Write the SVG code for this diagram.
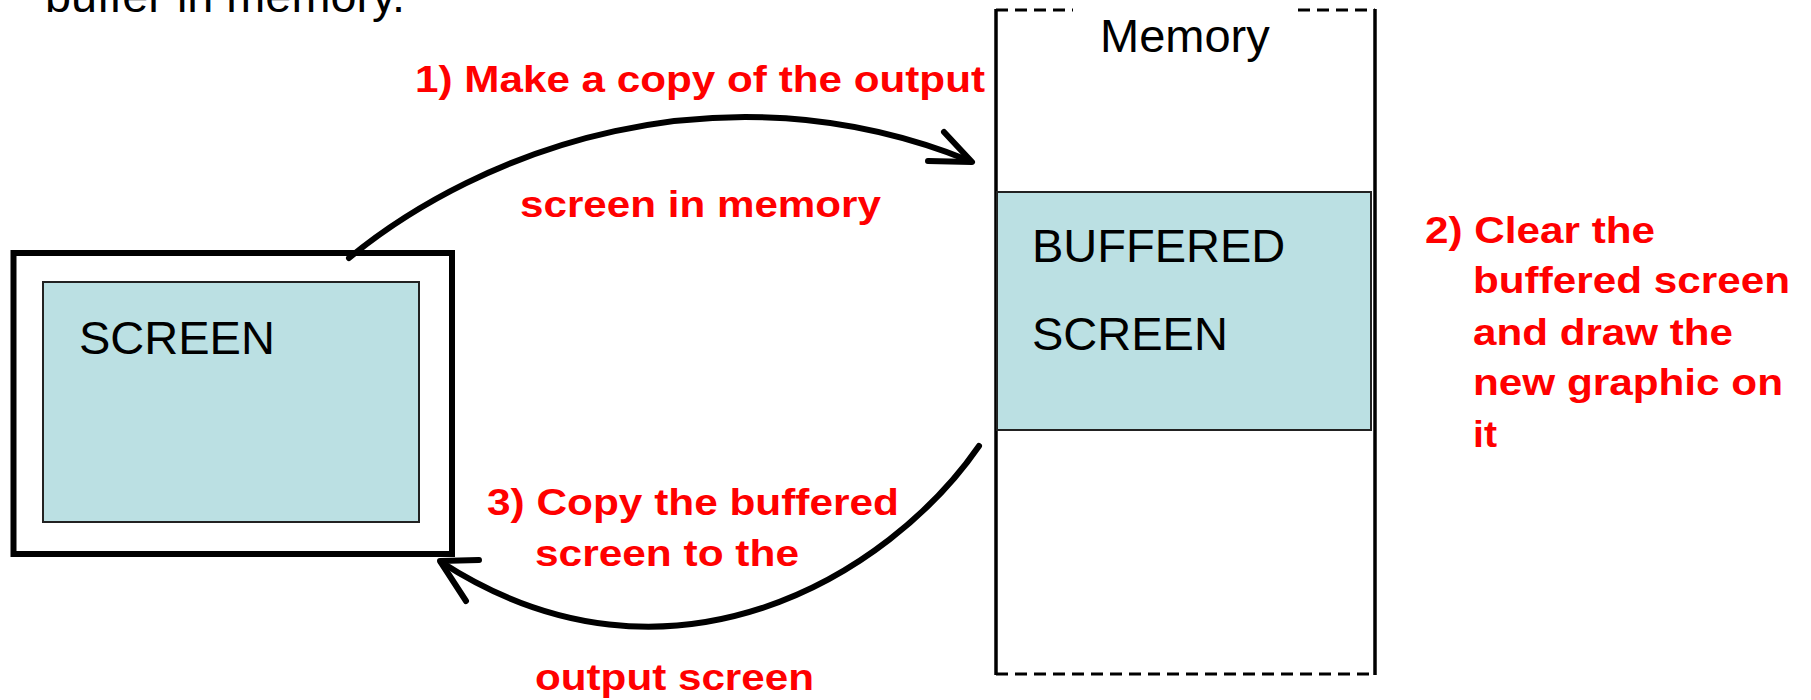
<svg xmlns="http://www.w3.org/2000/svg" width="1811" height="700" viewBox="0 0 1811 700">
<style>
.lbl{font-family:"Liberation Sans",Arial,sans-serif;font-size:47px;fill:#000}
.red{font-family:"Liberation Sans",Arial,sans-serif;font-size:37px;font-weight:bold;fill:#FF0000}
.blue{fill:#BBE0E3;stroke:#222;stroke-width:2}
.arrow{fill:none;stroke:#000;stroke-width:6;stroke-linecap:round;stroke-linejoin:round}
.dash{stroke:#000;stroke-width:3;stroke-dasharray:12 7;fill:none}
</style>
<rect width="1811" height="700" fill="#fff"/>
<text class="lbl" x="45" y="12" textLength="360" lengthAdjust="spacingAndGlyphs">buffer in memory.</text>

<g id="screen">
  <rect x="13.5" y="253" width="438.5" height="301" fill="#fff" stroke="#000" stroke-width="6"/>
  <rect class="blue" x="43" y="282" width="376" height="240"/>
  <text class="lbl" x="79" y="354">SCREEN</text>
</g>

<g id="memory">
  <line x1="996" y1="9" x2="996" y2="675" stroke="#000" stroke-width="3.5"/>
  <line x1="1375" y1="9" x2="1375" y2="675" stroke="#000" stroke-width="3.5"/>
  <line class="dash" x1="996" y1="10" x2="1073" y2="10"/>
  <line class="dash" x1="1298" y1="10" x2="1375" y2="10"/>
  <line class="dash" x1="996" y1="674" x2="1375" y2="674"/>
  <text class="lbl" x="1100" y="52">Memory</text>
</g>

<g id="buffered">
  <rect class="blue" x="997" y="192" width="374" height="238"/>
  <text class="lbl" x="1032" y="262">BUFFERED</text>
  <text class="lbl" x="1032" y="350">SCREEN</text>
</g>

<g id="connectors">
  <path class="arrow" d="M349,258 C480,150 720,60 970,161"/>
  <path class="arrow" d="M944,132 L972,162 L928,161"/>
  <path class="arrow" d="M979,446 C890,575 670,710 441,562"/>
  <path class="arrow" d="M479,560 L440,561 L466,601"/>
</g>

<g id="labels">
  <text class="red" x="415" y="92" textLength="570" lengthAdjust="spacingAndGlyphs">1) Make a copy of the output</text>
  <text class="red" x="520" y="217" textLength="361" lengthAdjust="spacingAndGlyphs">screen in memory</text>
  <text class="red" x="1425" y="243" textLength="230" lengthAdjust="spacingAndGlyphs">2) Clear the</text>
  <text class="red" x="1473" y="293" textLength="317" lengthAdjust="spacingAndGlyphs">buffered screen</text>
  <text class="red" x="1473" y="345" textLength="260" lengthAdjust="spacingAndGlyphs">and draw the</text>
  <text class="red" x="1473" y="395" textLength="310" lengthAdjust="spacingAndGlyphs">new graphic on</text>
  <text class="red" x="1473" y="447" textLength="24" lengthAdjust="spacingAndGlyphs">it</text>
  <text class="red" x="487" y="515" textLength="412" lengthAdjust="spacingAndGlyphs">3) Copy the buffered</text>
  <text class="red" x="535" y="566" textLength="264" lengthAdjust="spacingAndGlyphs">screen to the</text>
  <text class="red" x="535" y="690" textLength="279" lengthAdjust="spacingAndGlyphs">output screen</text>
</g>
</svg>
